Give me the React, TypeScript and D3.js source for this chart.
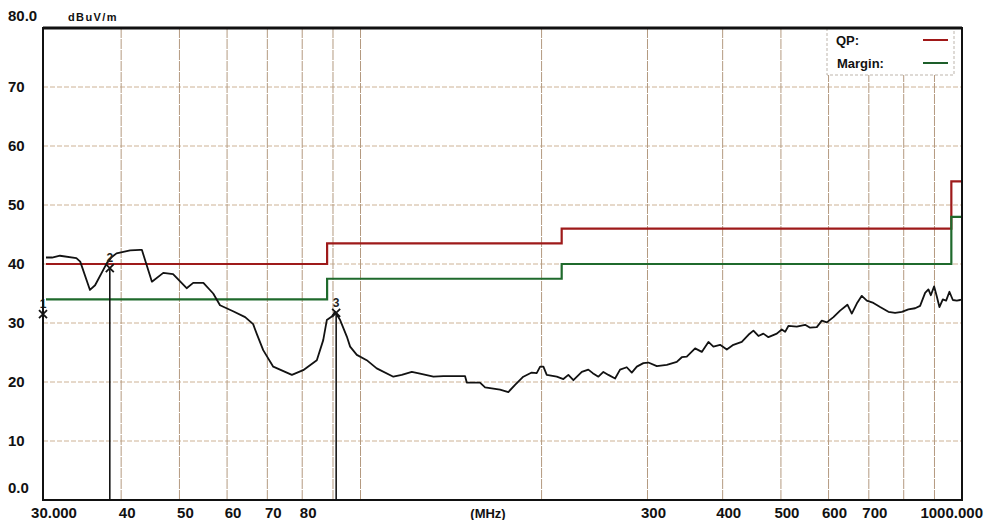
import { useEffect, useRef } from "react";
import * as d3 from "d3";

const traceFreq = [
  30.0, 30.7, 31.65, 33.7, 34.2, 35.5, 36.2, 37.85, 38.6, 39.3, 41.4, 43.0, 43.3, 45.0, 47.0, 48.8,
  51.4, 52.7, 54.8, 56.9, 58.4, 61.4, 64.3, 66.3, 67.2, 68.9, 71.6, 76.9, 80.3, 84.6, 86.7, 87.9,
  89.6, 90.7, 92.5, 94.9, 96.1, 98.6, 102.4, 106.4, 113.4, 117.1, 121.7, 125.6, 132.2, 137.3, 149.2,
  150.2, 158.0, 161.1, 170.6, 176.1, 180.7, 186.5, 192.6, 196.3, 198.9, 201.4, 204.0, 212.0, 217.4,
  221.6, 225.9, 233.3, 239.2, 243.3, 248.6, 253.4, 258.3, 265.0, 270.1, 277.1, 282.5, 288.0, 295.3,
  301.0, 310.9, 323.0, 335.6, 342.1, 348.7, 360.0, 369.3, 378.8, 386.1, 396.1, 406.4, 416.8, 430.4,
  441.5, 450.0, 458.7, 467.5, 476.6, 492.2, 501.6, 508.1, 514.5, 531.3, 548.5, 559.1, 573.6, 584.7,
  596.0, 611.3, 627.1, 644.9, 655.8, 668.5, 681.4, 694.6, 712.4, 730.9, 754.5, 774.1, 794.3, 814.5,
  835.7, 851.8, 868.3, 879.4, 887.5, 898.8, 908.1, 917.2, 929.2, 941.0, 953.0, 965.5, 980.4, 992.8,
  1000.0,
];
const traceLevel = [
  41.1, 41.1, 41.4, 41.0, 40.4, 35.6, 36.4, 40.1, 41.2, 41.8, 42.3, 42.4, 42.4, 37.0, 38.5, 38.3,
  35.9, 36.8, 36.8, 35.0, 33.0, 32.0, 31.0, 29.8, 28.2, 25.4, 22.6, 21.2, 22.0, 23.7, 27.1, 30.5,
  31.1, 31.9, 30.5, 27.7, 26.0, 24.6, 23.7, 22.3, 20.9, 21.2, 21.7, 21.4, 20.9, 21.0, 21.0,
  19.9, 19.9, 19.1, 18.7, 18.3, 19.5, 20.9, 21.6, 21.5, 22.6, 22.6, 21.2, 20.9, 20.5,
  21.2, 20.3, 21.7, 22.1, 21.5, 20.9, 21.7, 21.2, 20.6, 22.1, 22.5, 21.6, 22.6, 23.2,
  23.3, 22.7, 22.9, 23.4, 24.2, 24.3, 25.7, 25.1, 26.8, 26.0, 26.3, 25.5, 26.3, 26.8,
  28.0, 28.7, 27.8, 28.2, 27.6, 28.2, 28.9, 28.5, 29.5, 29.4, 29.7, 29.2, 29.3, 30.4,
  30.1, 31.0, 32.1, 33.1, 31.6, 33.3, 34.6, 33.8, 33.4, 32.7, 31.9, 31.7, 31.9, 32.3,
  32.5, 32.9, 35.1, 35.7, 34.7, 36.2, 34.5, 32.7, 34.0, 33.8, 35.3, 33.9, 33.8, 33.9,
  34.0,
];

// limit lines (step edges)
const limitFreq = [30, 88, 88, 216, 216, 960, 960, 1000];
const qpLimit = [40, 40, 43.5, 43.5, 46, 46, 54, 54];
const marginLimit = [34, 34, 37.5, 37.5, 40, 40, 48, 48];

const markerFreq = [30.0, 38.3, 91.1];
const markerLevel = [31.5, 39.3, 31.7];
const markerLabel = ["1", "2", "3"];

const yTicks = [10, 20, 30, 40, 50, 60, 70];
const xGrid = [40, 50, 60, 70, 80, 90, 100, 200, 300, 400, 500, 600, 700, 800, 900];
const xTickLabels = [40, 50, 60, 70, 80, 300, 400, 500, 600, 700];

const W = 987;
const H = 520;
const FONT = "'Liberation Sans', Arial, sans-serif";

export default function App() {
  const svgRef = useRef<SVGSVGElement>(null);

  useEffect(() => {
    if (!svgRef.current) return;
    const svg = d3.select(svgRef.current);
    svg.selectAll("*").remove();

    const frame = { left: 43, right: 962, top: 28, bottom: 500 };
    const x = d3.scaleLog().domain([30, 1000]).range([frame.left + 3, frame.right]);
    const y = d3.scaleLinear().domain([0, 80]).range([frame.bottom, frame.top]);

    svg.append("rect").attr("width", W).attr("height", H).attr("fill", "#ffffff");

    // grid
    const grid = svg.append("g");
    grid
      .selectAll("line.h")
      .data(yTicks)
      .join("line")
      .attr("x1", frame.left)
      .attr("x2", frame.right)
      .attr("y1", (d) => y(d))
      .attr("y2", (d) => y(d))
      .attr("stroke", "#cdb295")
      .attr("stroke-width", 1)
      .attr("stroke-dasharray", "5,2");
    grid
      .selectAll("line.v")
      .data(xGrid)
      .join("line")
      .attr("x1", (d) => x(d))
      .attr("x2", (d) => x(d))
      .attr("y1", frame.top)
      .attr("y2", frame.bottom)
      .attr("stroke", "#b49a80")
      .attr("stroke-width", 1)
      .attr("stroke-dasharray", "10,1");

    // legend box
    const lg = svg.append("g");
    lg.append("rect")
      .attr("x", 827)
      .attr("y", frame.top)
      .attr("width", 127)
      .attr("height", 47)
      .attr("fill", "#ffffff")
      .attr("stroke", "#bdb5ac")
      .attr("stroke-dasharray", "3,2");
    lg.append("text")
      .attr("x", 836)
      .attr("y", 45)
      .text("QP:");
    lg.append("text")
      .attr("x", 837)
      .attr("y", 68)
      .text("Margin:");
    lg.selectAll("text")
      .attr("font-family", FONT)
      .attr("font-weight", "bold")
      .attr("font-size", 13)
      .attr("fill", "#111");
    lg.append("line")
      .attr("x1", 923).attr("x2", 948).attr("y1", 40).attr("y2", 40)
      .attr("stroke", "#a01818").attr("stroke-width", 2);
    lg.append("line")
      .attr("x1", 923).attr("x2", 948).attr("y1", 63).attr("y2", 63)
      .attr("stroke", "#1d5e2a").attr("stroke-width", 2);

    const lineGen = (fs: number[], vs: number[]) =>
      d3
        .line<number>()
        .x((_, i) => x(fs[i]))
        .y((d) => y(d))(vs);

    // limits
    svg.append("path")
      .attr("d", lineGen(limitFreq, qpLimit))
      .attr("fill", "none")
      .attr("stroke", "#9e1a1a")
      .attr("stroke-width", 2.2);
    svg.append("path")
      .attr("d", lineGen(limitFreq, marginLimit))
      .attr("fill", "none")
      .attr("stroke", "#1f6a2c")
      .attr("stroke-width", 2.2);

    // trace
    svg.append("path")
      .attr("d", lineGen(traceFreq, traceLevel))
      .attr("fill", "none")
      .attr("stroke", "#121212")
      .attr("stroke-width", 1.8)
      .attr("stroke-linejoin", "round");

    // markers
    const mk = svg.append("g");
    markerFreq.forEach((f, i) => {
      const mx = i === 0 ? frame.left : x(f);
      const my = y(markerLevel[i]);
      mk.append("line")
        .attr("x1", mx).attr("x2", mx).attr("y1", my).attr("y2", frame.bottom)
        .attr("stroke", "#151515").attr("stroke-width", 1.6);
      mk.append("path")
        .attr("d", `M${mx - 4},${my - 4}L${mx + 4},${my + 4}M${mx - 4},${my + 4}L${mx + 4},${my - 4}`)
        .attr("stroke", "#151515").attr("stroke-width", 1.8);
      mk.append("text")
        .attr("x", mx)
        .attr("y", my - 6)
        .attr("text-anchor", "middle")
        .attr("font-family", FONT)
        .attr("font-weight", "bold")
        .attr("font-size", 12)
        .attr("fill", "#222")
        .text(markerLabel[i]);
    });

    // frame
    svg.append("rect")
      .attr("x", frame.left)
      .attr("y", frame.top)
      .attr("width", frame.right - frame.left)
      .attr("height", frame.bottom - frame.top)
      .attr("fill", "none")
      .attr("stroke", "#111")
      .attr("stroke-width", 2);
    svg.append("line")
      .attr("x1", frame.left).attr("x2", frame.right)
      .attr("y1", frame.top).attr("y2", frame.top)
      .attr("stroke", "#111").attr("stroke-width", 3);

    // axis labels
    const labels = svg.append("g")
      .attr("font-family", FONT)
      .attr("font-weight", "bold")
      .attr("font-size", 15)
      .attr("fill", "#111");
    labels.selectAll("text.y")
      .data(yTicks)
      .join("text")
      .attr("x", 8)
      .attr("y", (d) => y(d) + 5)
      .text((d) => String(d));
    labels.append("text").attr("x", 8).attr("y", frame.top - 7).text("80.0");
    labels.append("text").attr("x", 8).attr("y", frame.bottom - 7).text("0.0");
    labels.append("text")
      .attr("x", 68)
      .attr("y", frame.top - 7)
      .attr("font-size", 11)
      .attr("letter-spacing", 1.4)
      .text("dBuV/m");

    labels.selectAll("text.x")
      .data(xTickLabels)
      .join("text")
      .attr("x", (d) => x(d) + 6)
      .attr("y", 518)
      .attr("text-anchor", "middle")
      .text((d) => String(d));
    labels.append("text")
      .attr("x", x(30) + 8).attr("y", 518).attr("text-anchor", "middle").text("30.000");
    labels.append("text")
      .attr("x", 983).attr("y", 518).attr("text-anchor", "end").text("1000.000");
    labels.append("text")
      .attr("x", 488).attr("y", 518).attr("text-anchor", "middle")
      .attr("font-size", 13).text("(MHz)");
  }, []);

  return (
    <svg
      ref={svgRef}
      width={W}
      height={H}
      style={{ position: "absolute", left: 0, top: 0, display: "block" }}
    />
  );
}
